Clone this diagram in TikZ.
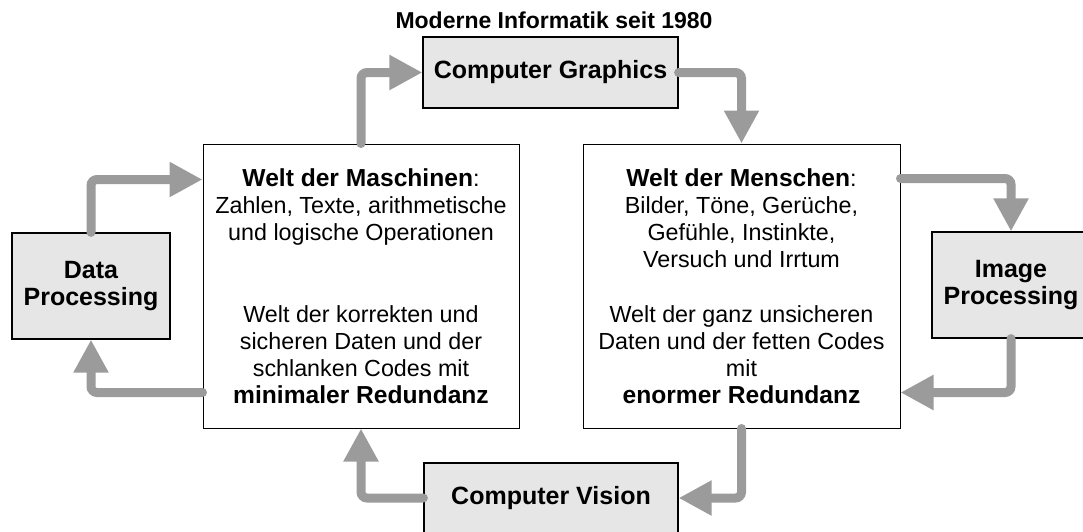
\documentclass[tikz,border=0pt]{standalone}
\usepackage{fontspec}
\setmainfont{Liberation Sans}
\usetikzlibrary{arrows.meta,calc}
\definecolor{boxfill}{RGB}{230,230,230}
\definecolor{arrgray}{RGB}{155,155,155}
\newcommand\wbold[1]{{\fontsize{24.6}{27.2}\selectfont\bfseries #1}}
\begin{document}
\begin{tikzpicture}[x=1pt,y=-1pt,
  graybox/.style={draw=black,line width=1.2pt,fill=boxfill,inner sep=0pt,align=center,
    font=\fontsize{25}{27}\selectfont\bfseries},
  worldbox/.style={draw=black,line width=1pt,fill=white,inner sep=0pt,align=center,
    font=\fontsize{23.3}{27.2}\selectfont,minimum width=316pt,minimum height=284pt},
  flow/.style={draw=arrgray,line width=9pt,rounded corners=6pt,line cap=round,
    -{Triangle[length=33pt,width=33pt]}},
]
\useasboundingbox (0,0) rectangle (1083,531);

\node[font=\fontsize{23}{27}\selectfont\bfseries] (title) at (554,20) {Moderne Informatik seit 1980};

\node[graybox,minimum width=255pt,minimum height=71pt] (cg) at (550.5,72.5) {Computer Graphics};
\node[graybox,minimum width=158pt,minimum height=106pt] (dp) at (91,286) {Data\\Processing};
\node[graybox,minimum width=158pt,minimum height=106pt] (ip) at (1011,285) {Image\\Processing};
\node[graybox,minimum width=254pt,minimum height=70pt] (cv) at (551,498) {Computer Vision};

\node[worldbox] (lw) at (361,286) {\wbold{Welt der Maschinen}:\\Zahlen, Texte, arithmetische\\und logische Operationen\\[54.4pt]Welt der korrekten und\\sicheren Daten und der\\schlanken Codes mit\\\wbold{minimaler Redundanz}};
\node[worldbox,minimum width=317pt] (rw) at (741.5,286) {\wbold{Welt der Menschen}:\\Bilder, Töne, Gerüche,\\Gefühle, Instinkte,\\Versuch und Irrtum\\[27.2pt]Welt der ganz unsicheren\\Daten und der fetten Codes\\mit\\\wbold{enormer Redundanz}};

\draw[flow] (dp.north) |- ([yshift=-36pt]lw.north west);
\draw[flow] ([yshift=36pt]lw.south west) -| (dp.south);
\draw[flow] (lw.north) |- (cg.west);
\draw[flow] (cg.east) -| (rw.north);
\draw[flow] ([yshift=-35pt]rw.north east) -| (ip.north);
\draw[flow] (ip.south) |- ([yshift=36pt]rw.south east);
\draw[flow] (rw.south) |- (cv.east);
\draw[flow] (cv.west) -| (lw.south);
\end{tikzpicture}
\end{document}
